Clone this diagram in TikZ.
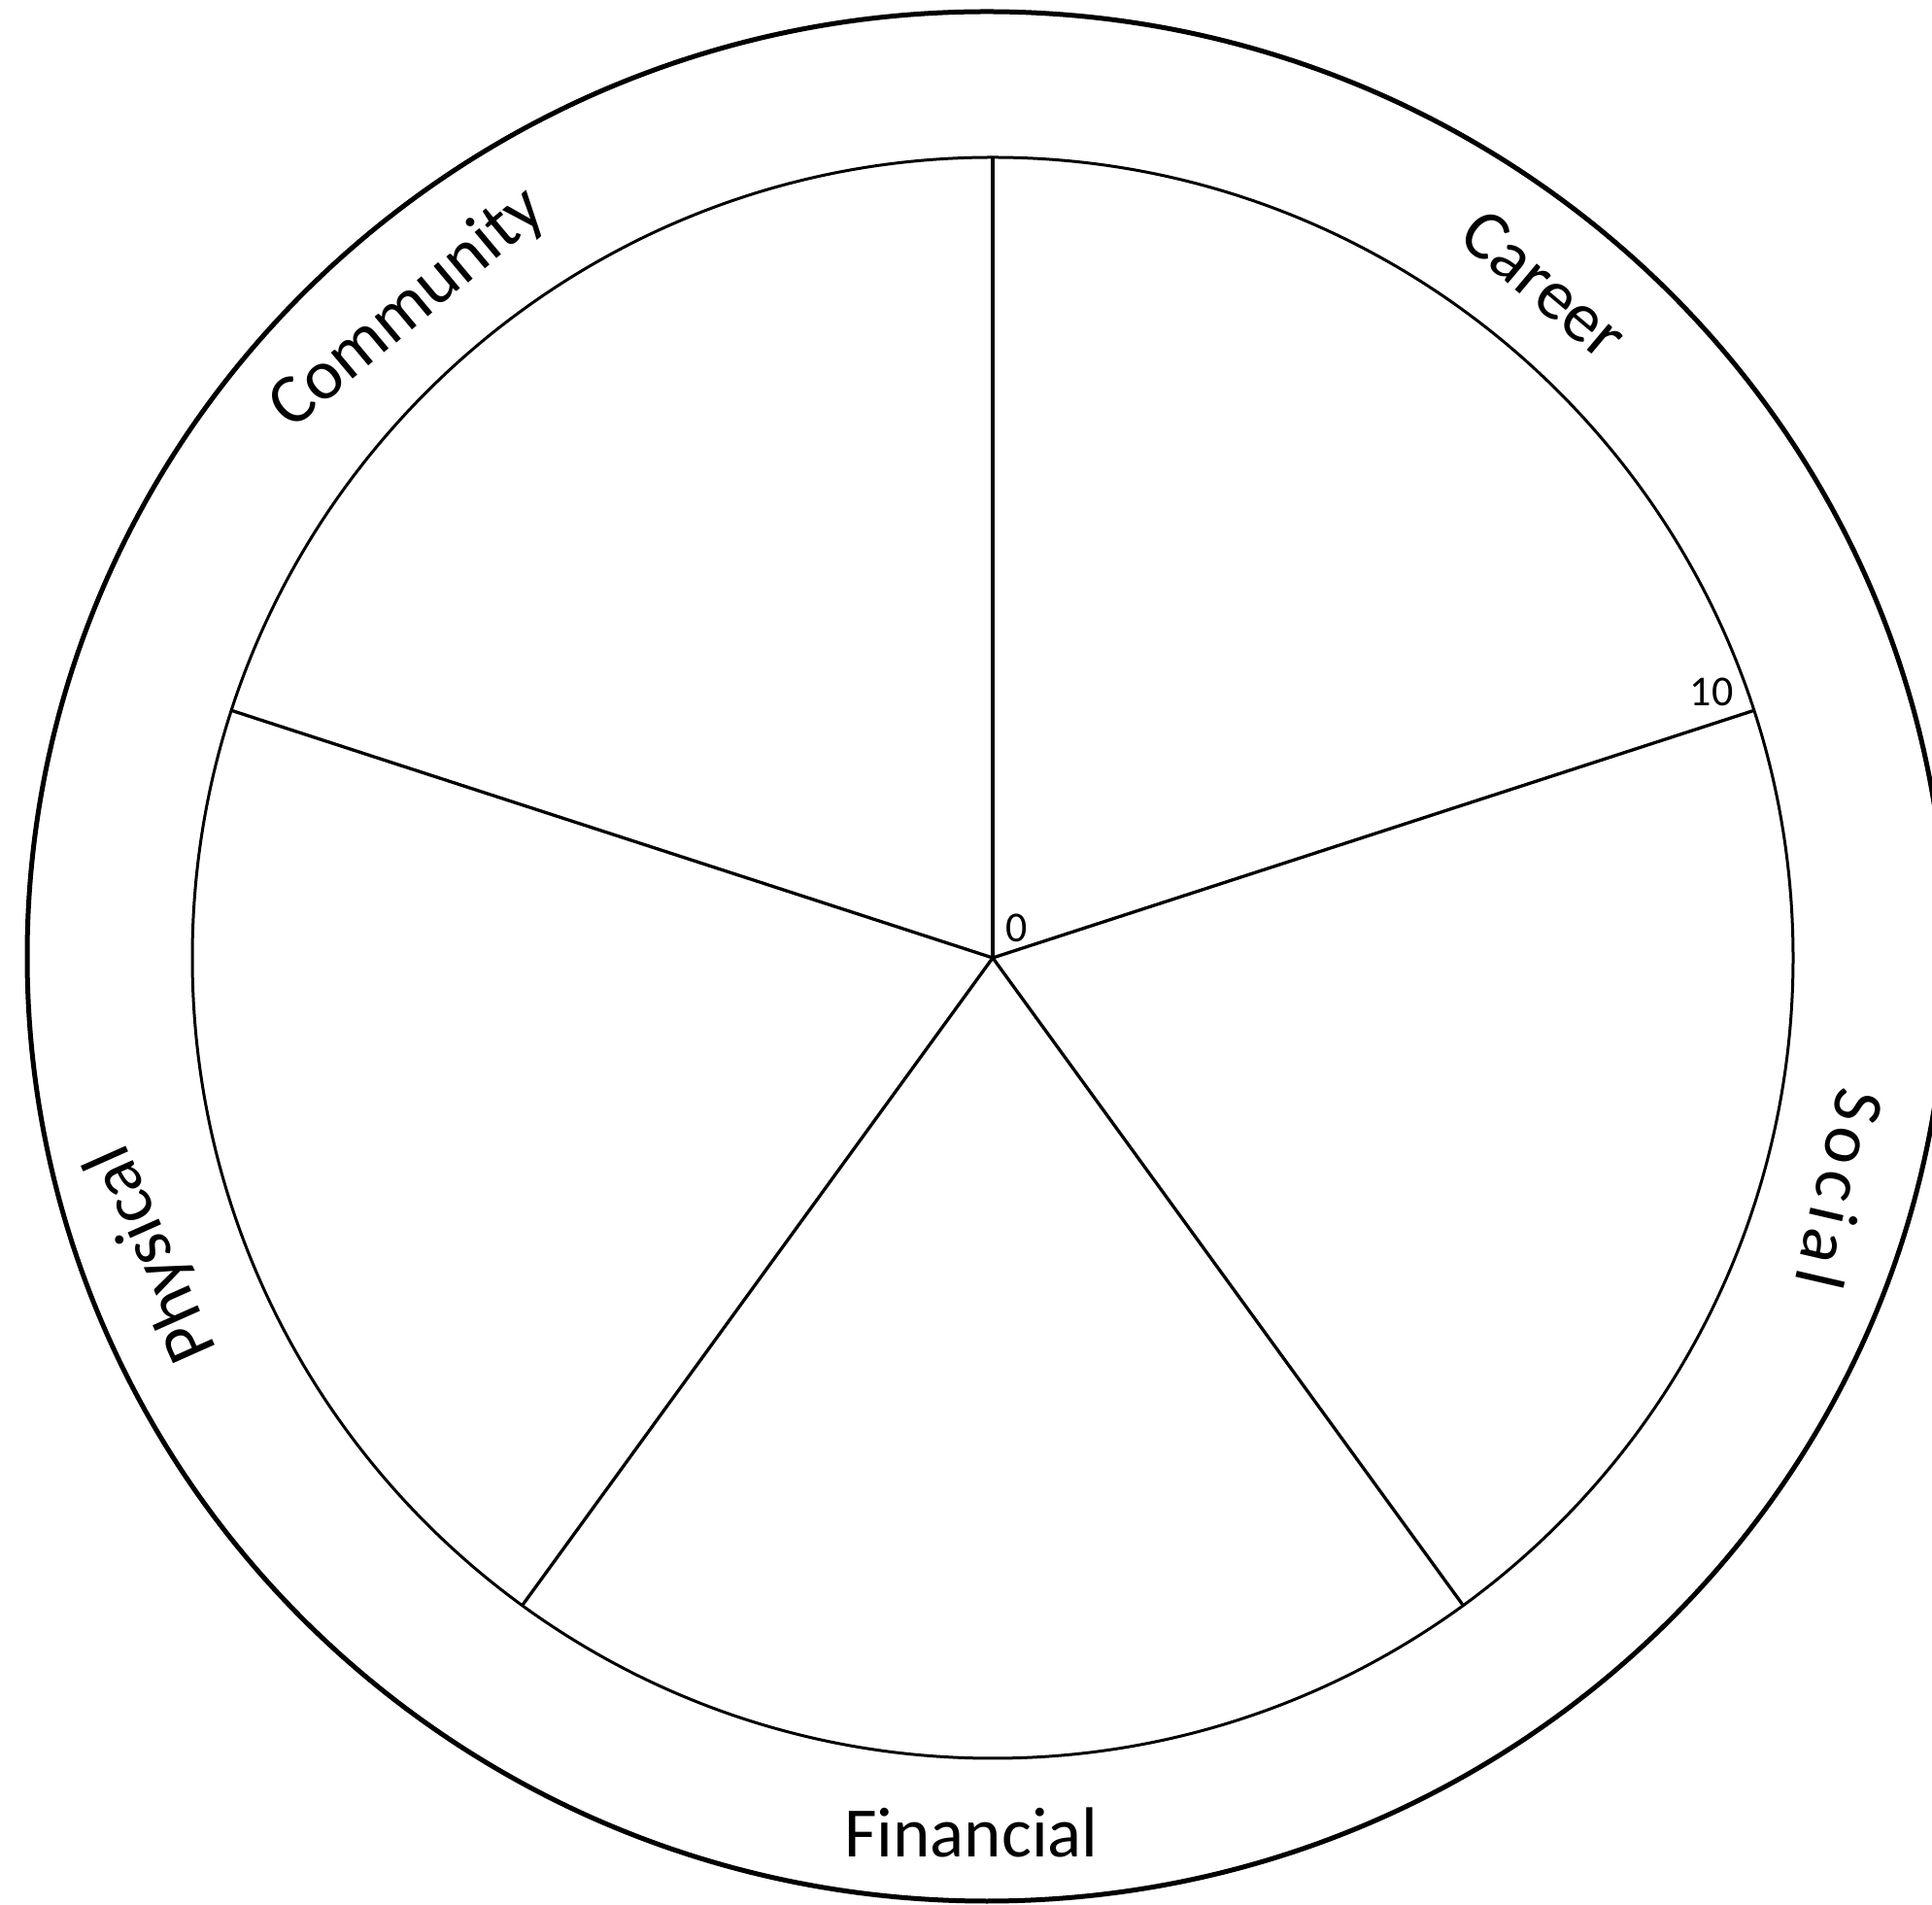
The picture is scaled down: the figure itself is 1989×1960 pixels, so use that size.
\documentclass[tikz,border=0pt]{standalone}
\usepackage{fontspec}
\setmainfont{Carlito}
\usetikzlibrary{calc}
\begin{document}
\begin{tikzpicture}[x=1pt,y=1pt,
  outerring/.style={line width=5pt},
  innerring/.style={line width=3pt},
  spoke/.style={line width=3.3pt},
  biglabel/.style={inner sep=0pt,font=\fontsize{73}{88}\selectfont},
  smalllabel/.style={inner sep=0pt,font=\fontsize{44}{52}\selectfont}]
\useasboundingbox (0,0) rectangle (1989,1960);
\clip (0,0) rectangle (1989,1960);
\coordinate (O) at (1022,974);
\draw[outerring] (1016,975.5) ellipse [x radius=988, y radius=972.5];
\draw[innerring] (O) circle [radius=824];
\foreach \a/\n in {90/s1,18/s2,-54/s3,-126/s4,162/s5}{
  \coordinate (\n) at ($(O)+(\a:824)$);
  \draw[spoke] (O) -- (\n);
}
\node[biglabel,rotate=40] (community) at (420,1642) {Community};
\node[biglabel,rotate=-40] (career) at (1590,1667) {Career};
\node[biglabel,rotate=-103] (social) at (1895,736) {\addfontfeatures{LetterSpace=10}Social};
\node[biglabel,rotate=114] (physical) at (158,670) {Physical};
\node[biglabel] (financial) at (1000,74) {Financial};
\node[smalllabel] (zero) at (1047,1005) {0};
\node[smalllabel] (ten) at (1762,1248) {10};
\end{tikzpicture}
\end{document}
